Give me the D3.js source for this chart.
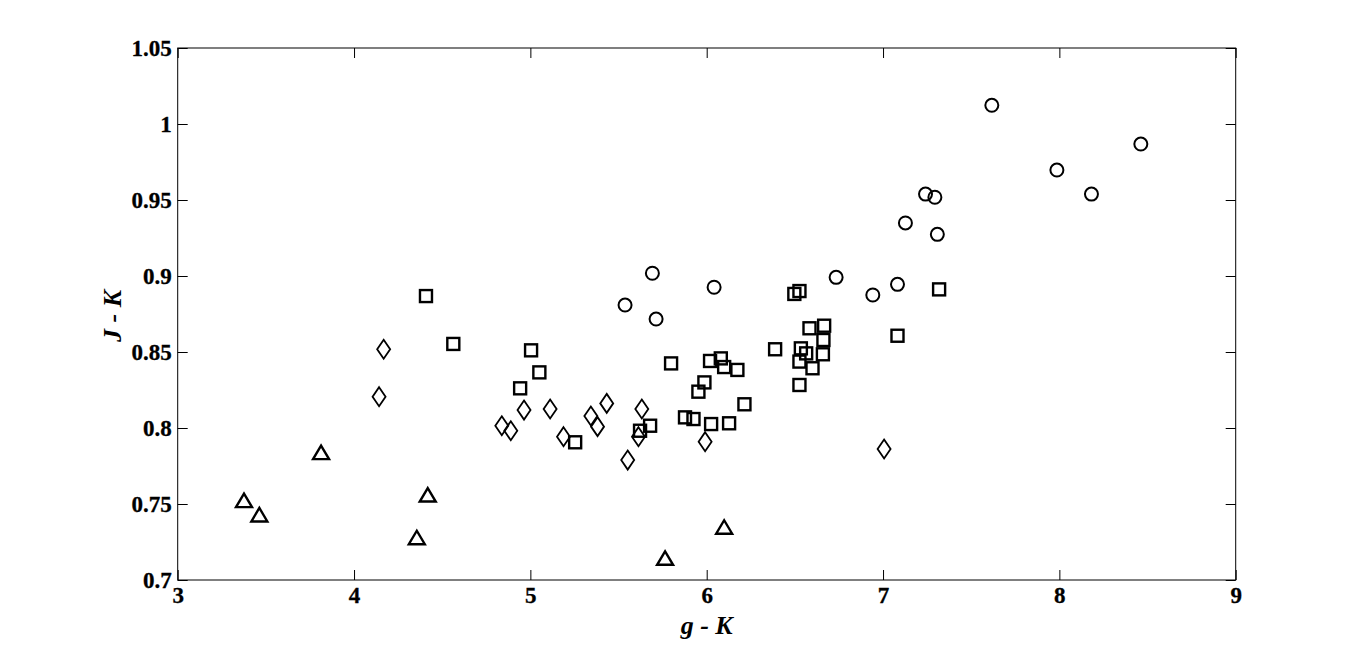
<!DOCTYPE html>
<html><head><meta charset="utf-8">
<script src="https://cdn.jsdelivr.net/npm/d3@7"></script>
<style>body{margin:0;background:#fff}svg{display:block}</style>
</head><body>
<svg id="c" width="1366" height="652"></svg>
<script>
const xTicks=[3,4,5,6,7,8,9];
const yTicks=[0.7,0.75,0.8,0.85,0.9,0.95,1,1.05];
const circlesX=[5.692,5.537,5.713,6.042,6.734,6.942,7.082,7.617,8.462,7.986,8.182,7.241,7.294,7.127,7.308];
const circlesY=[0.9018,0.8809,0.8717,0.8926,0.8991,0.8875,0.8945,1.0123,0.9868,0.9697,0.9539,0.9539,0.9518,0.9349,0.9274];
const squaresX=[4.408,4.563,5.004,5.051,4.942,7.318,6.526,6.497,6.666,6.583,6.662,7.082,6.388,6.534,6.564,6.659,6.526,6.600,6.526,5.798,6.019,6.080,6.099,6.174,5.987,5.953,6.214,5.877,5.925,6.025,6.127,5.679,5.622,5.254];
const squaresY=[0.8868,0.8553,0.8511,0.8366,0.8261,0.8912,0.8901,0.8882,0.8673,0.8656,0.8579,0.8607,0.8518,0.8524,0.8491,0.8485,0.8437,0.8393,0.8283,0.8425,0.8441,0.8458,0.8401,0.8382,0.8300,0.8239,0.8156,0.8070,0.8059,0.8026,0.8031,0.8015,0.7982,0.7906];
const diamondsX=[4.168,4.142,4.964,5.112,4.838,4.889,5.188,5.433,5.343,5.381,5.632,5.613,5.552,5.991,7.006];
const diamondsY=[0.8518,0.8206,0.8118,0.8125,0.8015,0.7982,0.7943,0.8162,0.8079,0.8009,0.8125,0.7943,0.7789,0.7910,0.7862];
const trianglesX=[3.376,3.463,3.813,4.418,4.356,6.099,5.764];
const trianglesY=[0.7522,0.7428,0.7838,0.7559,0.7278,0.7347,0.7143];

const L=177.7,R=1235.7,T=48,B=580;
const svg=d3.select("#c");
const x=d3.scaleLinear().domain([3,9]).range([L,R]);
const y=d3.scaleLinear().domain([0.7,1.05]).range([B,T]);
const font="'Liberation Serif','Times New Roman',serif";

svg.append("rect").attr("x",L).attr("y",T).attr("width",R-L).attr("height",B-T)
  .attr("fill","none").attr("stroke","#000").attr("stroke-width",1);

const fmt=d=>String(+d.toFixed(2));
const ax=(g)=>{g.selectAll(".domain").remove();g.selectAll("text").attr("font-family",font).attr("font-weight","bold").attr("font-size",23).attr("fill","#000").attr("stroke","#000").attr("stroke-width",0.3);g.selectAll("line").attr("stroke","#000");};
svg.append("g").attr("transform",`translate(0,${B})`).call(d3.axisBottom(x).tickValues(xTicks).tickFormat(fmt).tickSize(-10).tickPadding(7)).call(ax);
svg.append("g").attr("transform",`translate(0,${T})`).call(d3.axisTop(x).tickValues(xTicks).tickFormat("").tickSize(-10)).call(ax);
svg.append("g").attr("transform",`translate(${L},0)`).call(d3.axisLeft(y).tickValues(yTicks).tickFormat(fmt).tickSize(-10).tickPadding(6)).call(ax);
svg.append("g").attr("transform",`translate(${R},0)`).call(d3.axisRight(y).tickValues(yTicks).tickFormat("").tickSize(-10)).call(ax);

svg.append("text").attr("x",(L+R)/2).attr("y",634).attr("text-anchor","middle")
  .attr("font-family",font).attr("font-weight","bold").attr("font-style","italic").attr("font-size",26).text("g - K");
svg.append("text").attr("transform",`translate(121,${(T+B)/2+2}) rotate(-90)`).attr("text-anchor","middle")
  .attr("font-family",font).attr("font-weight","bold").attr("font-style","italic").attr("font-size",26).text("J - K");

const g=svg.append("g").attr("fill","none").attr("stroke","#000");
g.selectAll(".ci").data(d3.range(circlesX.length)).join("circle")
  .attr("cx",i=>x(circlesX[i])).attr("cy",i=>y(circlesY[i])).attr("r",6.5).attr("stroke-width",2);
g.selectAll(".sq").data(d3.range(squaresX.length)).join("rect")
  .attr("x",i=>x(squaresX[i])-6).attr("y",i=>y(squaresY[i])-6).attr("width",12).attr("height",12).attr("stroke-width",2.4);
g.selectAll(".di").data(d3.range(diamondsX.length)).join("path")
  .attr("d",i=>{const cx=x(diamondsX[i]),cy=y(diamondsY[i]);return `M${cx},${cy-9.5}L${cx+6.5},${cy}L${cx},${cy+9.5}L${cx-6.5},${cy}Z`;}).attr("stroke-width",1.8);
g.selectAll(".tr").data(d3.range(trianglesX.length)).join("path")
  .attr("d",i=>{const cx=x(trianglesX[i]),cy=y(trianglesY[i]);return `M${cx},${cy-7}L${cx+8},${cy+6.5}L${cx-8},${cy+6.5}Z`;}).attr("stroke-width",2.4);
</script>
</body></html>
